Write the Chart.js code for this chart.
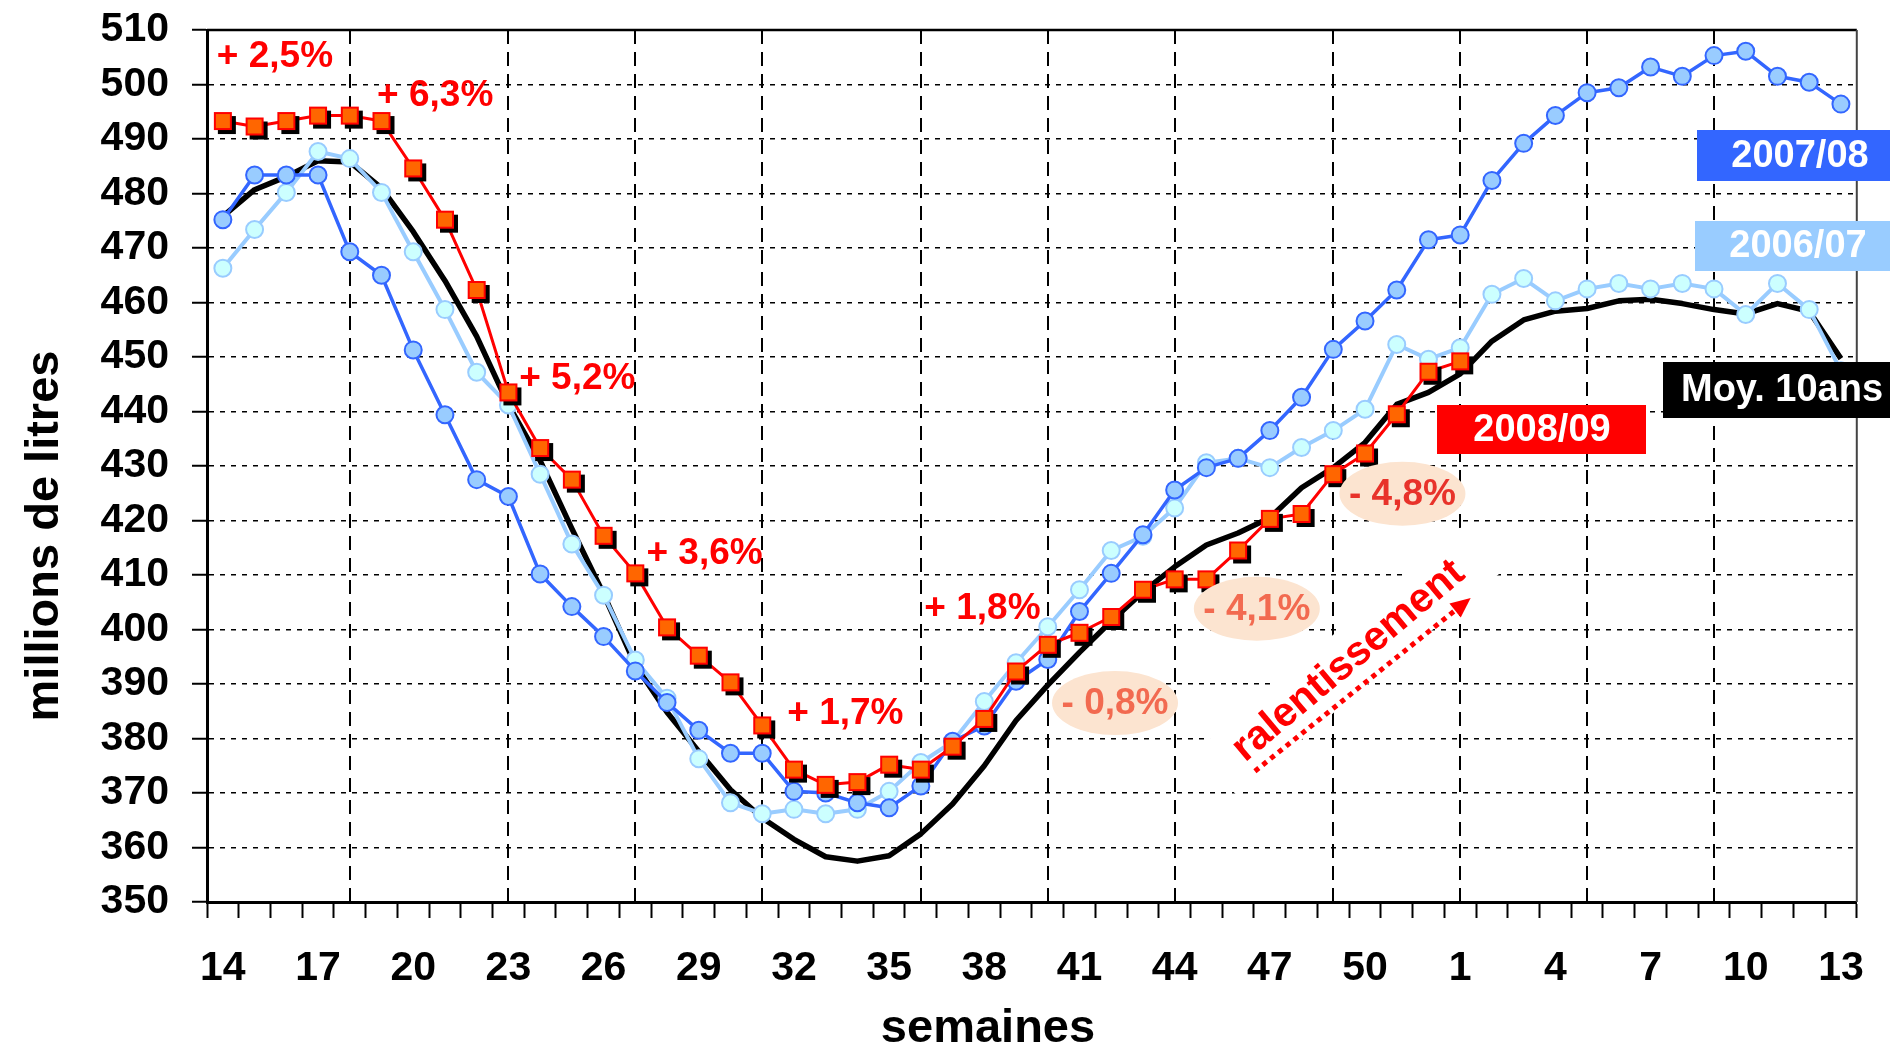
<!DOCTYPE html>
<html>
<head>
<meta charset="utf-8">
<script src="https://cdn.jsdelivr.net/npm/chart.js@4.4.1/dist/chart.umd.min.js"></script>
<style>
html, body { margin: 0; padding: 0; background: #fff; }
#wrap { position: relative; width: 1890px; height: 1045px; }
</style>
</head>
<body>
<div id="wrap"><canvas id="chart"></canvas></div>
<script>
// semaines : de la semaine 14 à la semaine 13 de l'année suivante
var weeks = ['14','15','16','17','18','19','20','21','22','23','24','25','26','27','28','29','30',
  '31','32','33','34','35','36','37','38','39','40','41','42','43','44','45','46','47','48','49',
  '50','51','52','1','2','3','4','5','6','7','8','9','10','11','12','13'];
var xTickLabels = ['14','17','20','23','26','29','32','35','38','41','44','47','50','1','4','7','10','13'];
var monthStarts = ['18','23','27','31','36','40','44','49','1','5','9'];

var s2008 = [493.3, 492.3, 493.3, 494.3, 494.3, 493.3, 484.6, 475.2, 462.3, 443.5,
  433.3, 427.5, 417.2, 410.3, 400.4, 395.2, 390.3, 382.4, 374.3, 371.5,
  372.0, 375.2, 374.3, 378.5, 383.6, 392.3, 397.2, 399.4, 402.3, 407.3,
  409.2, 409.2, 414.5, 420.3, 421.2, 428.5, 432.3, 439.5, 447.3, 449.2,
  null, null, null, null, null, null, null, null, null, null, null, null];
var s2007 = [475.2, 483.4, 483.4, 483.4, 469.3, 465.0, 451.3, 439.4, 427.5, 424.4,
  410.2, 404.2, 398.7, 392.4, 386.6, 381.5, 377.3, 377.3, 370.3, 370.0,
  368.2, 367.3, 371.3, 379.5, 382.3, 390.5, 394.5, 403.3, 410.3, 417.4,
  425.6, 429.7, 431.4, 436.5, 442.6, 451.4, 456.6, 462.3, 471.5, 472.4,
  482.4, 489.2, 494.3, 498.5, 499.4, 503.2, 501.5, 505.3, 506.1, 501.5, 500.4, 496.4];
var s2006 = [466.3, 473.4, 480.2, 487.7, 486.4, 480.2, 469.3, 458.7, 447.2, 441.2,
  428.5, 415.7, 406.3, 394.4, 387.4, 376.3, 368.2, 366.2, 367.0, 366.2,
  367.0, 370.3, 375.6, 379.4, 386.8, 393.9, 400.5, 407.3, 414.5, 417.1,
  422.3, 430.6, 431.4, 429.7, 433.4, 436.5, 440.4, 452.3, 449.6, 451.7,
  461.5, 464.4, 460.3, 462.5, 463.5, 462.5, 463.5, 462.5, 457.8, 463.5, 458.7, 447.5];
var moy10 = [475.8, 480.7, 483.1, 486.0, 485.8, 481.0, 473.0, 464.0, 453.8, 441.2,
  431.0, 418.5, 406.5, 393.5, 384.8, 377.6, 370.6, 365.4, 361.5, 358.3,
  357.5, 358.5, 362.5, 368.0, 375.0, 383.3, 389.8, 395.8, 401.5, 406.9,
  411.5, 415.5, 417.7, 420.5, 426.0, 429.7, 434.3, 441.3, 443.5, 446.9,
  452.9, 456.8, 458.4, 458.9, 460.3, 460.6, 459.8, 458.7, 457.9, 459.8, 458.4, 449.7];

var FONT = "'Liberation Sans', Arial, sans-serif";

// carré orange avec ombre noire
function squareMarker() {
  var s = 18, off = 4;
  var c = document.createElement('canvas');
  c.width = c.height = 28;
  var m = 14, g = c.getContext('2d');
  g.fillStyle = '#000';
  g.fillRect(m - s / 2 + off, m - s / 2 + off, s, s);
  g.fillStyle = '#FF6600';
  g.fillRect(m - s / 2, m - s / 2, s, s);
  g.strokeStyle = '#FF0000';
  g.lineWidth = 2;
  g.strokeRect(m - s / 2 + 1, m - s / 2 + 1, s - 2, s - 2);
  return c;
}

// textes rouges (index de semaine, valeur)
var plusLabels = [
  {t: '+ 2,5%', i: -0.19, v: 505.1},
  {t: '+ 6,3%', i: 4.86, v: 497.9},
  {t: '+ 5,2%', i: 9.34, v: 446.0},
  {t: '+ 3,6%', i: 13.35, v: 413.9},
  {t: '+ 1,7%', i: 17.79, v: 384.5},
  {t: '+ 1,8%', i: 22.11, v: 403.8}
];
var minusLabels = [
  {t: '- 0,8%', i: 28.12, v: 386.5, c: '#F26A50'},
  {t: '- 4,1%', i: 32.59, v: 403.8, c: '#F26A50'},
  {t: '- 4,8%', i: 37.18, v: 424.9, c: '#E8322A'}
];
var boxes = [
  {t: '2007/08', x: 1697, y: 130, w: 193, h: 51, bg: '#3366FF', tx: 1800},
  {t: '2006/07', x: 1695, y: 221, w: 195, h: 50, bg: '#99CCFF', tx: 1798},
  {t: 'Moy. 10ans', x: 1663, y: 362, w: 227, h: 56, bg: '#000000', tx: 1782},
  {t: '2008/09', x: 1437, y: 405, w: 209, h: 49, bg: '#FF0000', tx: 1542}
];

var decor = {
  id: 'decor',
  beforeDatasetsDraw: function(chart) {
    var ctx = chart.ctx, a = chart.chartArea, x = chart.scales.x;
    ctx.save();
    ctx.strokeStyle = '#000';
    ctx.lineWidth = 2;
    ctx.setLineDash([14, 8]);
    monthStarts.forEach(function(w) {
      var px = Math.round(x.getPixelForValue(weeks.indexOf(w)));
      ctx.beginPath(); ctx.moveTo(px, a.top); ctx.lineTo(px, a.bottom); ctx.stroke();
    });
    ctx.setLineDash([]);
    ctx.lineWidth = 2.5;
    ctx.beginPath(); ctx.moveTo(a.left, a.top); ctx.lineTo(a.right, a.top); ctx.stroke();
    ctx.strokeStyle = '#444';
    ctx.lineWidth = 2;
    ctx.beginPath(); ctx.moveTo(a.right, a.top); ctx.lineTo(a.right, a.bottom); ctx.stroke();
    ctx.restore();
  },
  afterDatasetsDraw: function(chart) {
    var ctx = chart.ctx, x = chart.scales.x, y = chart.scales.y;
    ctx.save();
    ctx.font = 'bold 37px ' + FONT;
    ctx.textBaseline = 'middle';

    plusLabels.forEach(function(l) {
      ctx.fillStyle = '#FF0000';
      ctx.textAlign = 'left';
      ctx.fillText(l.t, x.getPixelForValue(l.i), y.getPixelForValue(l.v));
    });

    minusLabels.forEach(function(l) {
      var cx = x.getPixelForValue(l.i), cy = y.getPixelForValue(l.v);
      ctx.fillStyle = '#FCE4D0';
      ctx.beginPath(); ctx.ellipse(cx, cy, 63, 32, 0, 0, Math.PI * 2); ctx.fill();
      ctx.fillStyle = l.c;
      ctx.textAlign = 'center';
      ctx.fillText(l.t, cx, cy + 1);
    });

    // ralentissement
    var rx = x.getPixelForValue(35.48), ry = y.getPixelForValue(394.2);
    ctx.save();
    ctx.translate(rx, ry);
    ctx.rotate(-40 * Math.PI / 180);
    ctx.fillStyle = '#fff';
    ctx.fillRect(-172, -30, 344, 60);
    ctx.fillStyle = '#FF0000';
    ctx.font = 'bold 41px ' + FONT;
    ctx.textAlign = 'center';
    ctx.fillText('ralentissement', 0, 0);
    ctx.restore();

    // flèche pointillée
    var x0 = x.getPixelForValue(32.53), y0 = y.getPixelForValue(374.0);
    var x1 = x.getPixelForValue(39.33), y1 = y.getPixelForValue(405.8);
    var ang = Math.atan2(y1 - y0, x1 - x0), hl = 20;
    ctx.strokeStyle = '#FF0000';
    ctx.lineWidth = 5;
    ctx.setLineDash([5, 5]);
    ctx.beginPath();
    ctx.moveTo(x0, y0);
    ctx.lineTo(x1 - Math.cos(ang) * hl, y1 - Math.sin(ang) * hl);
    ctx.stroke();
    ctx.setLineDash([]);
    ctx.fillStyle = '#FF0000';
    ctx.beginPath();
    ctx.moveTo(x1, y1);
    ctx.lineTo(x1 - Math.cos(ang) * hl + Math.sin(ang) * 9, y1 - Math.sin(ang) * hl - Math.cos(ang) * 9);
    ctx.lineTo(x1 - Math.cos(ang) * hl - Math.sin(ang) * 9, y1 - Math.sin(ang) * hl + Math.cos(ang) * 9);
    ctx.closePath();
    ctx.fill();

    // étiquettes des séries
    ctx.font = 'bold 38px ' + FONT;
    ctx.textAlign = 'center';
    boxes.forEach(function(b) {
      ctx.fillStyle = b.bg;
      ctx.fillRect(b.x, b.y, b.w, b.h);
      ctx.fillStyle = '#fff';
      ctx.fillText(b.t, b.tx, b.y + b.h / 2 + 1);
    });
    ctx.restore();
  },
  afterDraw: function(chart) {
    var ctx = chart.ctx;
    ctx.save();
    ctx.fillStyle = '#000';
    ctx.font = 'bold 47px ' + FONT;
    ctx.textAlign = 'center';
    ctx.textBaseline = 'alphabetic';
    ctx.fillText('semaines', 988, 1042);
    ctx.translate(58, 536);
    ctx.rotate(-Math.PI / 2);
    ctx.fillText('millions de litres', 0, 0);
    ctx.restore();
  }
};

new Chart(document.getElementById('chart'), {
  type: 'line',
  data: {
    labels: weeks,
    datasets: [
      {
        label: '2008/09', data: s2008,
        borderColor: '#FF0000', borderWidth: 3,
        pointStyle: squareMarker(), pointRadius: 10
      },
      {
        label: '2007/08', data: s2007,
        borderColor: '#3366FF', borderWidth: 3.5,
        pointBackgroundColor: '#99CCFF', pointBorderColor: '#3366FF',
        pointBorderWidth: 2, pointRadius: 8.5
      },
      {
        label: '2006/07', data: s2006,
        borderColor: '#99CCFF', borderWidth: 4,
        pointBackgroundColor: '#CCFFFF', pointBorderColor: '#99CCFF',
        pointBorderWidth: 2, pointRadius: 8.5
      },
      {
        label: 'Moy. 10ans', data: moy10,
        borderColor: '#000000', borderWidth: 5.5,
        pointRadius: 0
      }
    ]
  },
  options: {
    responsive: true,
    maintainAspectRatio: false,
    animation: false,
    devicePixelRatio: 1,
    layout: { padding: { left: 0, right: 28, top: 30, bottom: 0 } },
    elements: { line: { tension: 0, borderJoinStyle: 'round' } },
    plugins: { legend: { display: false }, tooltip: { enabled: false } },
    scales: {
      x: {
        offset: true,
        afterFit: function(scale) { scale.height = 143; },
        grid: { drawOnChartArea: false, offset: true, tickLength: 16, tickColor: '#000', tickWidth: 2 },
        border: { color: '#000', width: 3 },
        ticks: {
          autoSkip: false, maxRotation: 0, minRotation: 0, padding: 26, color: '#000',
          font: { family: FONT, size: 41, weight: 'bold' },
          callback: function(v, i) {
            var w = weeks[i];
            return xTickLabels.indexOf(w) >= 0 ? w : '';
          }
        }
      },
      y: {
        min: 350, max: 510,
        afterFit: function(scale) {
          scale.width = 207;
          scale.paddingTop = 0;
          scale.paddingBottom = 0;
        },
        grid: { color: '#000', lineWidth: 1.5, tickLength: 15, tickColor: '#000', tickWidth: 2 },
        border: { color: '#000', width: 3, dash: [5, 6] },
        ticks: {
          stepSize: 10, autoSkip: false, padding: 23, color: '#000',
          font: { family: FONT, size: 41, weight: 'bold' }
        }
      }
    }
  },
  plugins: [decor]
});
</script>
</body>
</html>
